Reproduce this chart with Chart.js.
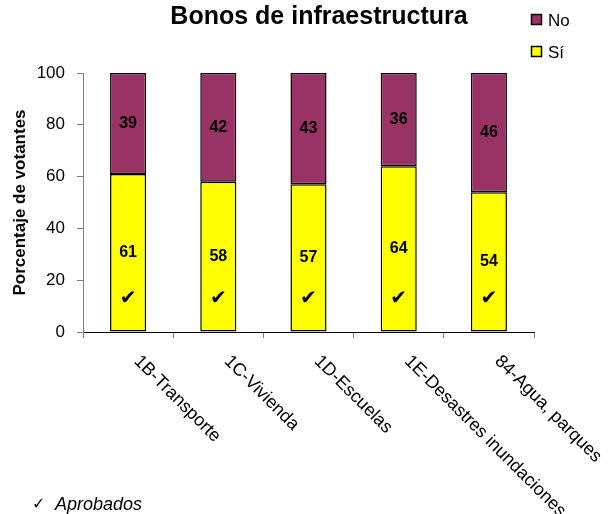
<!DOCTYPE html>
<html>
<head>
<meta charset="utf-8">
<script src="https://cdn.jsdelivr.net/npm/chart.js@4.4.1/dist/chart.umd.min.js"></script>
<style>
  html, body { margin: 0; padding: 0; background: #fff; }
  #wrap { width: 610px; height: 514px; position: relative; }
</style>
</head>
<body>
<div id="wrap"><canvas id="myCanvas" width="610" height="514"></canvas></div>
<script>
'use strict';

var categories = ['1B-Transporte', '1C-Vivienda', '1D-Escuelas', '1E-Desastres inundaciones', '84-Agua, parques'];
var siValues = [61, 58, 57, 64, 54];
var noValues = [39, 42, 43, 36, 46];
var approved = [true, true, true, true, true];
var yTicks = [0, 20, 40, 60, 80, 100];

var FONT = '"Liberation Sans", Arial, sans-serif';

// labels, legend, title and check marks drawn on top of the bars
var extras = {
    id: 'extras',
    afterDatasetsDraw: function(chart) {
        var ctx = chart.ctx;
        var x = chart.scales.x, y = chart.scales.y;
        ctx.save();

        // values inside segments
        ctx.fillStyle = '#000';
        ctx.font = 'bold 16px ' + FONT;
        ctx.textAlign = 'center';
        ctx.textBaseline = 'middle';
        chart.data.datasets.forEach(function(ds, di) {
            var meta = chart.getDatasetMeta(di);
            meta.data.forEach(function(bar, i) {
                ctx.fillText(String(ds.data[i]), bar.x, (bar.y + bar.base) / 2);
            });
        });

        // check marks for approved measures
        ctx.font = 'bold 20px "DejaVu Sans", sans-serif';
        approved.forEach(function(ok, i) {
            if (ok) ctx.fillText('\u2714', x.getPixelForValue(i), y.getPixelForValue(13));
        });

        // rotated category labels
        ctx.font = '18px ' + FONT;
        ctx.textAlign = 'left';
        ctx.textBaseline = 'top';
        categories.forEach(function(lab, i) {
            ctx.save();
            ctx.translate(x.getPixelForValue(i) + 15, y.bottom + 20);
            ctx.rotate(Math.PI / 4);
            ctx.fillText(lab, 0, 0);
            ctx.restore();
        });

        // title
        ctx.textAlign = 'center';
        ctx.textBaseline = 'middle';
        ctx.font = 'bold 25px ' + FONT;
        ctx.fillText('Bonos de infraestructura', 319, 17);

        // legend (No above Sí)
        ctx.font = '17px ' + FONT;
        ctx.textAlign = 'left';
        var items = chart.data.datasets.slice().reverse();
        items.forEach(function(ds, k) {
            var cy = 20 + k * 32;
            ctx.fillStyle = ds.backgroundColor;
            ctx.fillRect(531.5, cy - 5.5, 10, 10);
            ctx.strokeStyle = '#000';
            ctx.lineWidth = 1.5;
            ctx.strokeRect(531.5, cy - 5.5, 10, 10);
            ctx.fillStyle = '#000';
            ctx.fillText(ds.label, 548, cy + 1);
        });

        // footer note
        ctx.font = '16px "DejaVu Sans", sans-serif';
        ctx.fillText('\u2713', 32, 505);
        ctx.font = 'italic 18px ' + FONT;
        ctx.fillText('Aprobados', 55, 505);

        ctx.restore();
    }
};

var ctx = document.getElementById('myCanvas').getContext('2d');
var myChart = new Chart(ctx, {
    type: 'bar',
    data: {
        labels: categories,
        datasets: [
            {
                label: 'Sí',
                data: siValues,
                backgroundColor: '#FFFF00',
                borderColor: '#000',
                borderWidth: 1.5,
                borderSkipped: false
            },
            {
                label: 'No',
                data: noValues,
                backgroundColor: '#993366',
                borderColor: '#000',
                borderWidth: 1.5,
                borderSkipped: false
            }
        ]
    },
    options: {
        responsive: false,
        animation: false,
        events: [],
        layout: { padding: { top: 73, left: 0, right: 76, bottom: 172 } },
        datasets: { bar: { barPercentage: 0.4, categoryPercentage: 1 } },
        plugins: {
            legend: { display: false },
            title: { display: false },
            tooltip: { enabled: false }
        },
        scales: {
            x: {
                stacked: true,
                afterFit: function(s) { s.height = 10; },
                ticks: { display: false },
                grid: { offset: true, drawOnChartArea: false, drawTicks: true, tickLength: 6, color: '#808080' },
                border: { color: '#000', width: 1 }
            },
            y: {
                stacked: true,
                min: 0,
                max: 100,
                afterFit: function(s) { s.width = 83; },
                afterBuildTicks: function(s) { s.ticks = yTicks.map(function(v) { return { value: v }; }); },
                ticks: { color: '#000', font: { family: FONT, size: 17 }, padding: 12 },
                grid: { drawOnChartArea: false, drawTicks: true, tickLength: 6, color: '#808080' },
                border: { color: '#808080', width: 1 },
                title: {
                    display: true,
                    text: 'Porcentaje de votantes',
                    color: '#000',
                    font: { family: FONT, size: 17, weight: 'bold' },
                    padding: { top: 10, bottom: 0 }
                }
            }
        }
    },
    plugins: [extras]
});
</script>
</body>
</html>
